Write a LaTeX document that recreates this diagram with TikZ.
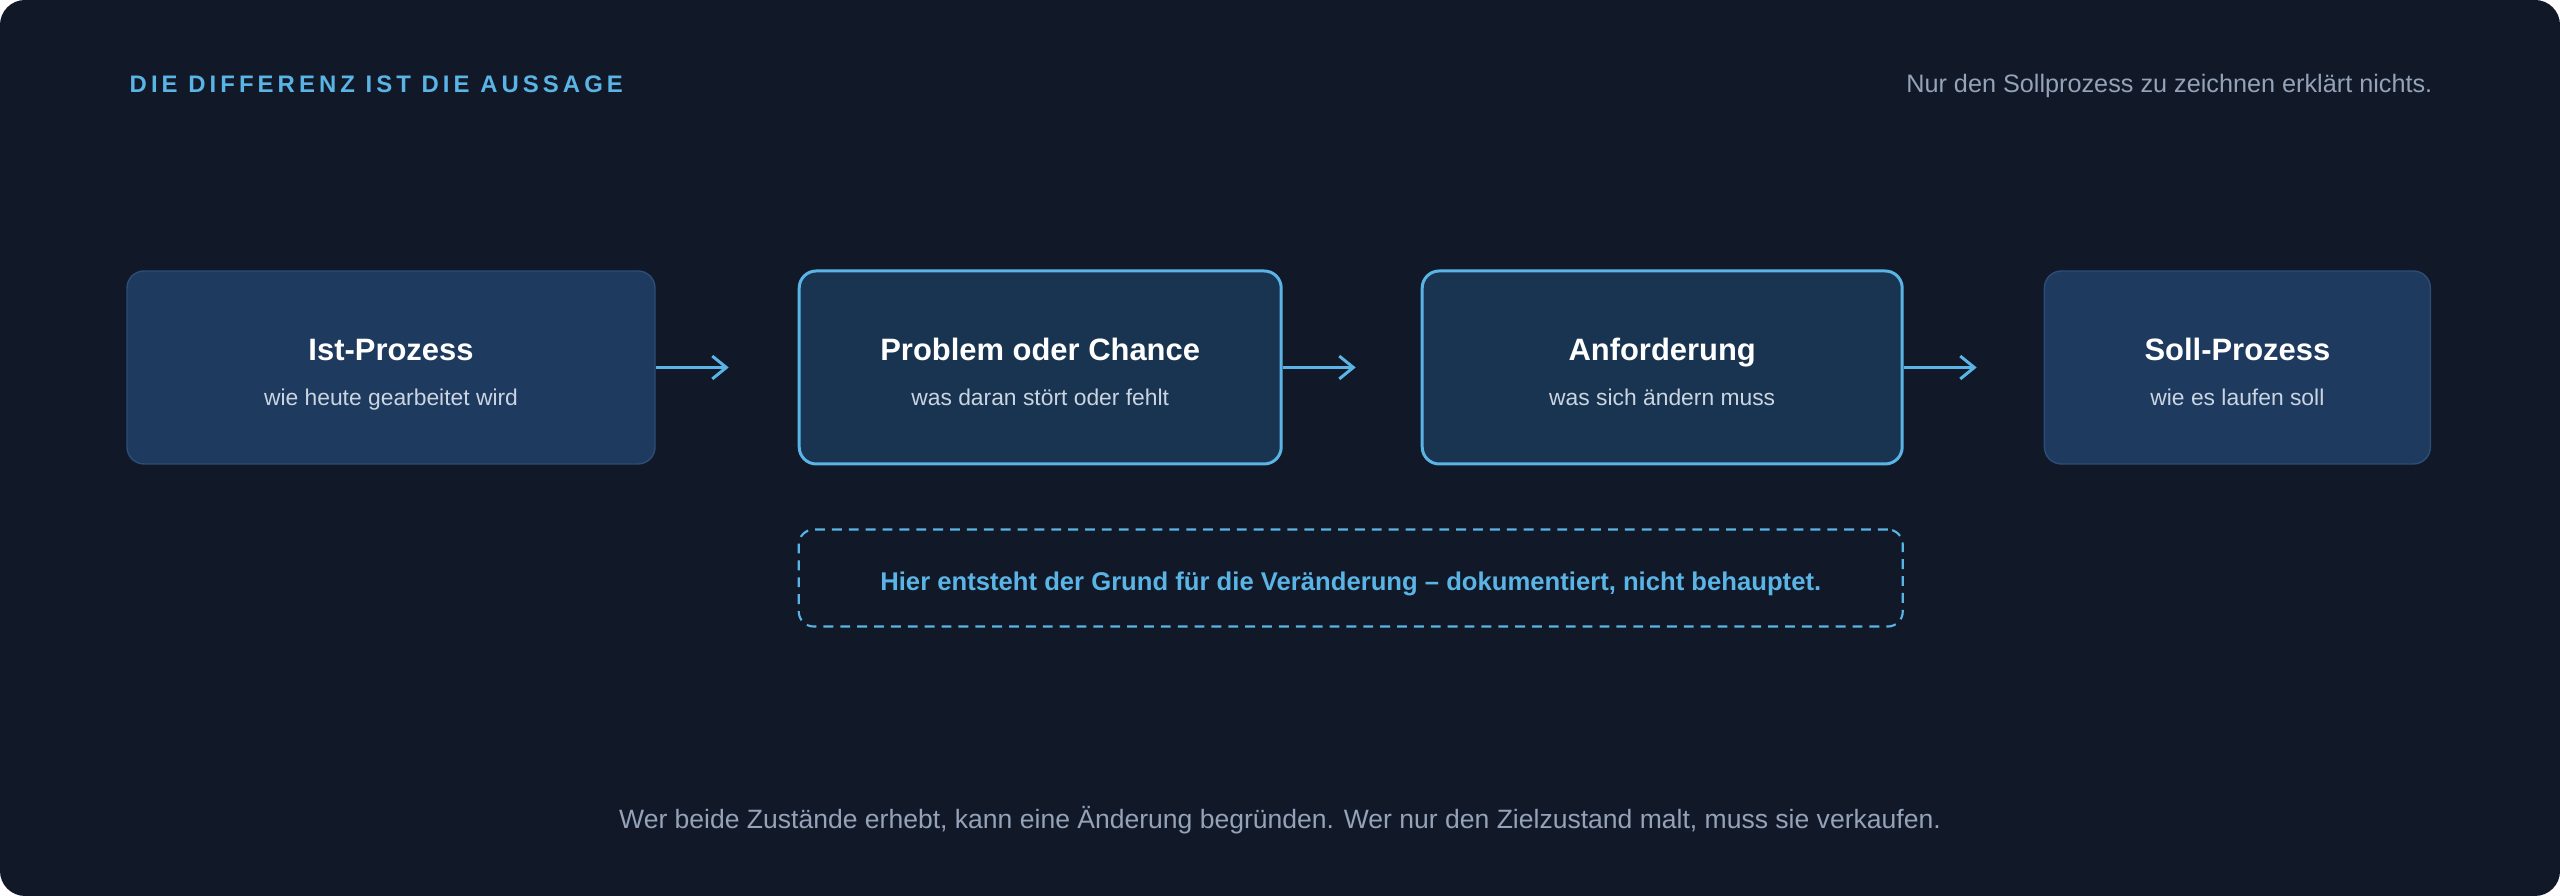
\documentclass[tikz,border=0pt]{standalone}
\usepackage{fontspec}
\setmainfont{Liberation Sans}
\newfontfamily\capsfont[LetterSpace=17]{Liberation Sans}
\usetikzlibrary{positioning,arrows.meta}
\definecolor{pagebg}{HTML}{111827}
\definecolor{boxfill}{HTML}{1E3A5F}
\definecolor{boxline}{HTML}{2C4D78}
\definecolor{keyfill}{HTML}{183451}
\definecolor{accent}{HTML}{5AB4E5}
\definecolor{muted}{HTML}{94A3B8}
\definecolor{subtext}{HTML}{CBD5E1}
\begin{document}
\begin{tikzpicture}[
  box/.style={rounded corners=0.17cm, minimum height=1.93cm, inner sep=0pt, fill=boxfill, draw=boxline, line width=0.4pt},
  keybox/.style={box, fill=keyfill, draw=accent, line width=0.85pt},
  boxhead/.style={text=white, font=\bfseries\fontsize{8.8}{10}\selectfont, anchor=base, inner sep=0pt},
  boxsub/.style={text=subtext, font=\fontsize{6.5}{8}\selectfont, anchor=base, inner sep=0pt},
  flow/.style={accent, line width=0.85pt, -{Straight Barb[length=4pt,width=6.5pt]}}
]
  % page
  \fill[white] (0,0) rectangle (25.6,8.96);
  \fill[pagebg, rounded corners=0.25cm] (0,0) rectangle (25.6,8.96);
  \node[anchor=base west, inner sep=0pt, text=accent, font=\capsfont\bfseries\fontsize{6.8}{8}\selectfont] (title) at (1.29,8.03) {DIE DIFFERENZ IST DIE AUSSAGE};
  \node[anchor=base east, inner sep=0pt, text=muted, font=\fontsize{7.18}{8}\selectfont] (note) at (24.33,8.03) {Nur den Sollprozess zu zeichnen erklärt nichts.};

  % the four steps
  \node[box, minimum width=5.28cm] (ist) at (3.91,5.285) {};
  \node[keybox, minimum width=4.82cm, right=1.42cm of ist] (prob) {};
  \node[keybox, minimum width=4.80cm, right=1.38cm of prob] (anf) {};
  \node[box, minimum width=3.86cm, right=1.40cm of anf] (soll) {};

  \node[boxhead] (isth) at ([yshift=0.065cm]ist.center) {Ist-Prozess};
  \node[boxsub] (ists) at ([yshift=-0.385cm]ist.center) {wie heute gearbeitet wird};
  \node[boxhead] (probh) at ([yshift=0.065cm]prob.center) {Problem oder Chance};
  \node[boxsub] (probs) at ([yshift=-0.385cm]prob.center) {was daran stört oder fehlt};
  \node[boxhead] (anfh) at ([yshift=0.065cm]anf.center) {Anforderung};
  \node[boxsub] (anfs) at ([yshift=-0.385cm]anf.center) {was sich ändern muss};
  \node[boxhead] (sollh) at ([yshift=0.065cm]soll.center) {Soll-Prozess};
  \node[boxsub] (solls) at ([yshift=-0.385cm]soll.center) {wie es laufen soll};

  % arrows
  \coordinate (e1) at ([xshift=0.73cm]ist.east);
  \coordinate (e2) at ([xshift=0.73cm]prob.east);
  \coordinate (e3) at ([xshift=0.73cm]anf.east);
  \draw[flow] (ist.east) -- (e1);
  \draw[flow] (prob.east) -- (e2);
  \draw[flow] (anf.east) -- (e3);

  % reason box
  \node[draw=accent, dashed, dash pattern=on 2.8pt off 2pt, line width=0.6pt, rounded corners=0.15cm, minimum width=11.04cm, minimum height=0.97cm, anchor=north west] (why) at ([yshift=-0.63cm]prob.south west) {};
  \node[anchor=base, inner sep=0pt, text=accent, font=\bfseries\fontsize{7.3}{8}\selectfont] (whyt) at ([yshift=-0.125cm]why.center) {Hier entsteht der Grund für die Veränderung – dokumentiert, nicht behauptet.};

  \node[anchor=base, inner sep=0pt, text=muted, font=\fontsize{7.55}{9}\selectfont] (claim) at (12.80,0.67) {Wer beide Zustände erhebt, kann eine Änderung begründen. Wer nur den Zielzustand malt, muss sie verkaufen.};
\end{tikzpicture}
\end{document}
